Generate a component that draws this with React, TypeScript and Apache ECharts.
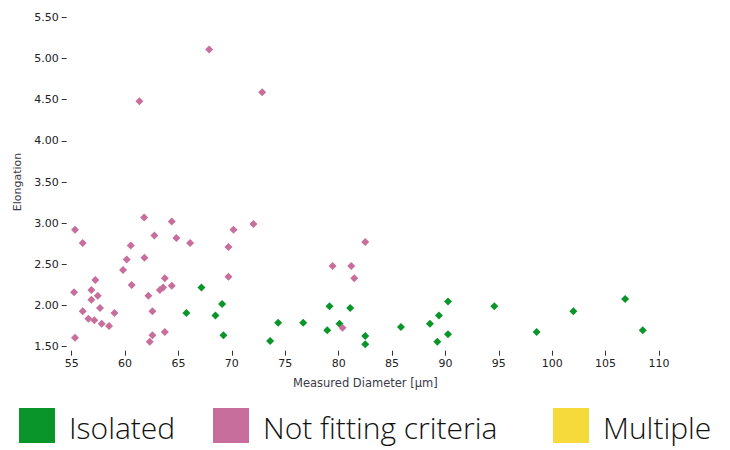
import React, { useEffect, useRef } from "react";
import * as echarts from "echarts";

const seriesNames = ["Isolated", "Not fitting criteria", "Multiple"];
const seriesColors = ["#0a952a", "#c86e9c", "#f6da3c"];

const isolatedX = [65.74, 67.15, 68.46, 69.09, 69.21, 79.14, 81.08, 74.33, 76.68, 73.58, 78.93, 80.08, 82.49, 82.49, 85.83, 88.55, 89.39, 90.24, 89.24, 90.24, 94.58, 98.54, 101.98, 106.83, 108.48];
const isolatedY = [1.91, 2.22, 1.88, 2.02, 1.64, 1.99, 1.97, 1.79, 1.79, 1.57, 1.70, 1.78, 1.63, 1.53, 1.74, 1.78, 1.88, 2.05, 1.56, 1.65, 1.99, 1.68, 1.93, 2.08, 1.70];

const notFitX = [55.31, 56.03, 55.22, 56.03, 55.31, 57.21, 56.84, 57.44, 56.84, 57.65, 56.56, 57.12, 57.81, 58.5, 59.0, 59.81, 60.15, 60.53, 60.62, 61.78, 61.81, 62.74, 62.18, 62.56, 62.56, 62.31, 63.72, 63.72, 63.25, 63.56, 64.37, 64.37, 64.8, 66.09, 69.68, 70.15, 69.68, 72.02, 82.49, 79.43, 81.18, 81.46, 80.36, 61.34, 67.87, 72.84];
const notFitY = [2.92, 2.76, 2.16, 1.93, 1.61, 2.31, 2.19, 2.12, 2.07, 1.97, 1.84, 1.82, 1.78, 1.75, 1.91, 2.43, 2.56, 2.73, 2.25, 3.07, 2.58, 2.85, 2.12, 1.93, 1.64, 1.56, 1.68, 2.33, 2.19, 2.22, 3.02, 2.24, 2.82, 2.76, 2.71, 2.92, 2.35, 2.99, 2.77, 2.48, 2.48, 2.33, 1.73, 4.48, 5.11, 4.59];

const multipleX: number[] = [];
const multipleY: number[] = [];

const xTicks = { min: 55, max: 110, interval: 5 };
const yTicks = { min: 1.5, max: 5.5, interval: 0.5 };

const legendLefts = [19, 213, 553];

const zip = (xs: number[], ys: number[]) => xs.map((x, i) => [x, ys[i]]);

export default function App() {
  const ref = useRef<HTMLDivElement>(null);
  useEffect(() => {
    if (!ref.current) return;
    const chart = echarts.init(ref.current, undefined, { renderer: "svg" });
    const axisFont = "DejaVu Sans";
    const datasets = [zip(isolatedX, isolatedY), zip(notFitX, notFitY), zip(multipleX, multipleY)];
    chart.setOption({
      animation: false,
      backgroundColor: "#ffffff",
      grid: { left: 71.7, top: 17.3, right: 71, bottom: 103.3, containLabel: false },
      xAxis: {
        type: "value",
        min: xTicks.min,
        max: xTicks.max,
        interval: xTicks.interval,
        offset: 4,
        name: "Measured Diameter [µm]",
        nameLocation: "middle",
        nameGap: 26,
        nameTextStyle: { fontFamily: axisFont, fontSize: 11.5, color: "#3a3a48" },
        axisLine: { show: false },
        axisTick: { show: true, length: 5, lineStyle: { color: "#333", width: 1 } },
        axisLabel: { fontFamily: axisFont, fontSize: 11, color: "#222", margin: 7 },
        splitLine: { show: false },
      },
      yAxis: {
        type: "value",
        min: yTicks.min,
        max: yTicks.max,
        interval: yTicks.interval,
        offset: 5,
        name: "Elongation",
        nameLocation: "middle",
        nameGap: 41,
        nameTextStyle: { fontFamily: axisFont, fontSize: 11, color: "#3a3a48" },
        axisLine: { show: false },
        axisTick: { show: true, length: 5, lineStyle: { color: "#333", width: 1 } },
        axisLabel: {
          fontFamily: axisFont,
          fontSize: 11,
          color: "#222",
          margin: 8,
          formatter: (v: number) => v.toFixed(2),
        },
        splitLine: { show: false },
      },
      legend: seriesNames.map((name, i) => ({
        left: legendLefts[i],
        top: 408,
        icon: "rect",
        itemWidth: 36,
        itemHeight: 35,
        padding: 0,
        formatter: "{t|{name}}",
        textStyle: {
          fontFamily: "Open Sans",
          fontWeight: 300,
          fontSize: 30,
          color: "#111",
          rich: {
            t: {
              fontFamily: "Open Sans",
              fontWeight: 300,
              fontSize: 30,
              lineHeight: 34,
              color: "#111",
              padding: [4, 0, 0, 9],
            },
          },
        },
        data: [name],
      })),
      series: seriesNames.map((name, i) => ({
        name,
        type: "scatter",
        symbol: "diamond",
        symbolSize: 8,
        itemStyle: { color: seriesColors[i], opacity: 1 },
        data: datasets[i],
      })),
    });
    return () => chart.dispose();
  }, []);
  return (
    <div
      ref={ref}
      style={{ position: "fixed", left: 0, top: 0, width: 730, height: 450 }}
    />
  );
}
